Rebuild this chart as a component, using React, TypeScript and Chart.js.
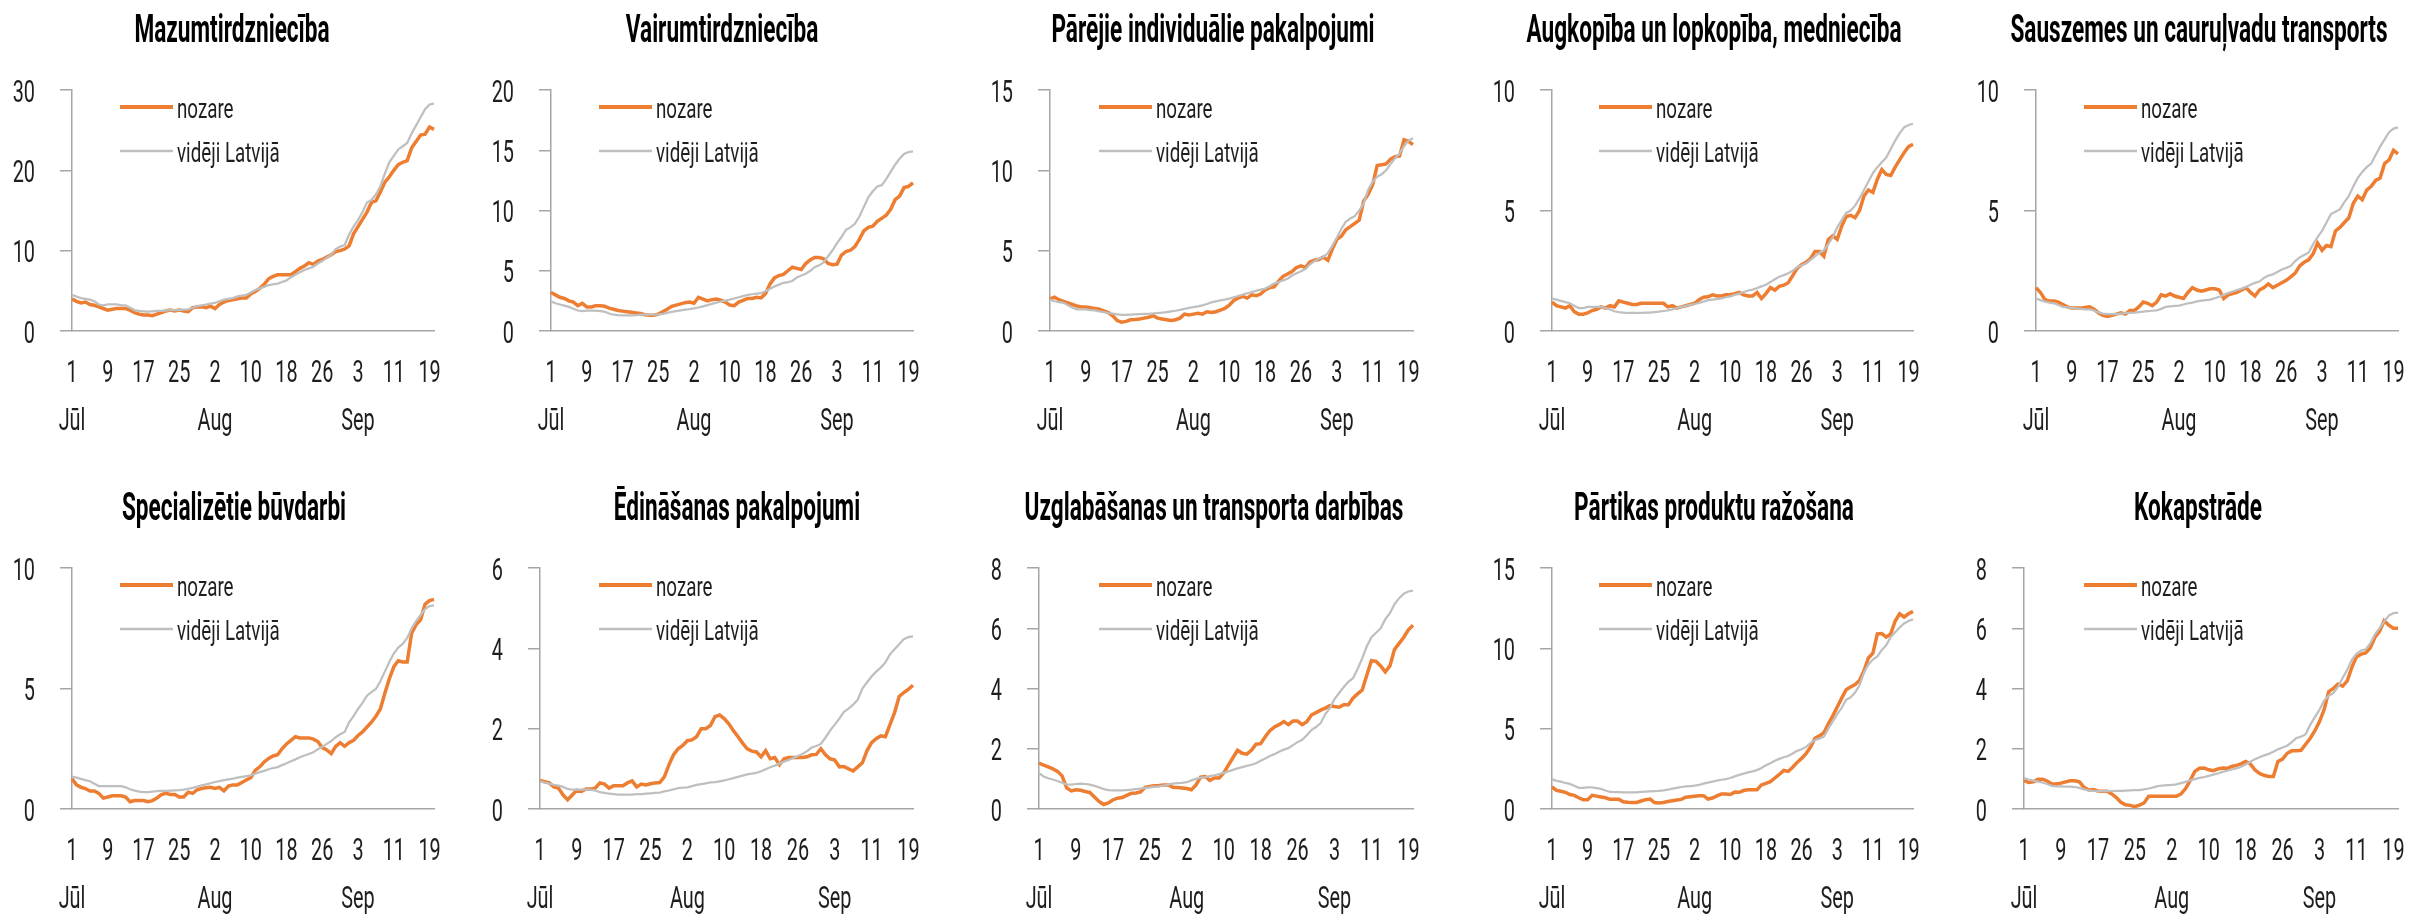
import React, { useEffect, useRef } from "react";
import { Chart, registerables } from "chart.js";

Chart.register(...registerables);

// ---------- DATA ----------
const days = [
  1, 2, 3, 4, 5, 6, 7, 8, 9, 10, 11, 12, 13, 14, 15, 16, 17, 18, 19, 20, 21, 22, 23, 24, 25, 26, 27, 28, 29, 30, 31,
  1, 2, 3, 4, 5, 6, 7, 8, 9, 10, 11, 12, 13, 14, 15, 16, 17, 18, 19, 20, 21, 22, 23, 24, 25, 26, 27, 28, 29, 30, 31,
  1, 2, 3, 4, 5, 6, 7, 8, 9, 10, 11, 12, 13, 14, 15, 16, 17, 18, 19, 20,
];
const dayTickIndex = [0, 8, 16, 24, 32, 40, 48, 56, 64, 72, 80];
const monthLabels = ["Jūl", "Aug", "Sep"];
const monthTickIndex = [0, 32, 64];
const seriesNames = ["nozare", "vidēji Latvijā"];

const titles = [
  "Mazumtirdzniecība",
  "Vairumtirdzniecība",
  "Pārējie individuālie pakalpojumi",
  "Augkopība un lopkopība, medniecība",
  "Sauszemes un cauruļvadu transports",
  "Specializētie būvdarbi",
  "Ēdināšanas pakalpojumi",
  "Uzglabāšanas un transporta darbības",
  "Pārtikas produktu ražošana",
  "Kokapstrāde",
];
const yMax = [30, 20, 15, 10, 10, 10, 6, 8, 15, 8];
const yStep = [10, 5, 5, 5, 5, 5, 2, 2, 5, 2];

const retailSector = [
  4.0, 3.7, 3.5, 3.6, 3.3, 3.2, 3.0, 2.8, 2.6, 2.7, 2.8, 2.8, 2.8, 2.6, 2.3, 2.1, 2.0, 2.0, 1.9, 2.1,
  2.3, 2.5, 2.6, 2.5, 2.6, 2.5, 2.4, 2.9, 3.0, 3.0, 2.9, 3.1, 2.8, 3.3, 3.6, 3.8, 3.9, 4.0, 4.1, 4.1,
  4.6, 4.9, 5.3, 5.8, 6.5, 6.8, 7.0, 7.0, 7.0, 7.0, 7.4, 7.8, 8.1, 8.5, 8.3, 8.7, 8.9, 9.2, 9.5, 9.9,
  10.0, 10.2, 10.6, 12.1, 13.0, 13.9, 14.8, 16.0, 16.2, 17.3, 18.5, 19.2, 20.0, 20.7, 21.0, 21.2, 22.8, 23.6, 24.4, 24.5,
  25.4, 25.1,
];
const retailAvg = [
  4.5, 4.3, 4.1, 4.0, 3.9, 3.7, 3.3, 3.2, 3.3, 3.3, 3.3, 3.2, 3.2, 2.9, 2.6, 2.5, 2.45, 2.4, 2.45, 2.5,
  2.5, 2.55, 2.6, 2.6, 2.6, 2.65, 2.7, 2.9, 3.1, 3.2, 3.3, 3.4, 3.5, 3.7, 3.9, 4.0, 4.1, 4.3, 4.4, 4.5,
  4.8, 5.1, 5.3, 5.5, 5.7, 5.8, 5.9, 6.1, 6.3, 6.7, 7.0, 7.3, 7.6, 7.8, 8.0, 8.4, 8.7, 9.1, 9.5, 10.2,
  10.5, 10.7, 12.0, 13.0, 13.8, 14.8, 16.0, 16.3, 17.0, 18.0, 19.6, 21.0, 21.8, 22.6, 23.0, 23.4, 24.6, 25.6, 26.6, 27.6,
  28.2, 28.3,
];
const wholesaleSector = [
  3.2, 3.0, 2.8, 2.7, 2.5, 2.4, 2.1, 2.3, 2.0, 2.0, 2.1, 2.1, 2.05, 1.9, 1.8, 1.7, 1.65, 1.6, 1.55, 1.5,
  1.45, 1.35, 1.3, 1.3, 1.4, 1.6, 1.8, 2.05, 2.15, 2.25, 2.35, 2.4, 2.3, 2.8, 2.65, 2.5, 2.6, 2.65, 2.55, 2.4,
  2.15, 2.1, 2.4, 2.55, 2.7, 2.7, 2.8, 2.75, 3.1, 3.9, 4.4, 4.6, 4.7, 5.0, 5.3, 5.2, 5.1, 5.6, 5.9, 6.1,
  6.1, 6.0, 5.6, 5.5, 5.55, 6.3, 6.6, 6.7, 7.0, 7.6, 8.3, 8.6, 8.7, 9.1, 9.35, 9.6, 10.1, 10.9, 11.2, 11.9,
  12.0, 12.3,
];
const wholesaleAvg = [
  2.45, 2.3, 2.2, 2.1, 2.0, 1.85, 1.7, 1.65, 1.7, 1.7, 1.7, 1.65, 1.6, 1.45, 1.35, 1.32, 1.3, 1.3, 1.3, 1.32,
  1.35, 1.35, 1.35, 1.35, 1.38, 1.42, 1.5, 1.58, 1.65, 1.72, 1.78, 1.82, 1.88, 1.95, 2.05, 2.15, 2.25, 2.35, 2.45, 2.52,
  2.6, 2.7, 2.8, 2.9, 3.0, 3.05, 3.1, 3.15, 3.3, 3.5, 3.7, 3.85, 4.0, 4.05, 4.15, 4.45, 4.6, 4.75, 5.0, 5.3,
  5.45, 5.7, 6.2, 6.7, 7.3, 7.8, 8.4, 8.6, 8.9, 9.5, 10.3, 11.1, 11.6, 12.0, 12.1, 12.6, 13.2, 13.8, 14.3, 14.7,
  14.85, 14.9,
];
const personalSector = [
  2.0, 2.1, 1.95, 1.85, 1.75, 1.65, 1.55, 1.5, 1.5, 1.45, 1.4, 1.35, 1.25, 1.15, 0.95, 0.65, 0.55, 0.6, 0.7, 0.72,
  0.75, 0.8, 0.85, 0.95, 0.8, 0.75, 0.7, 0.65, 0.7, 0.8, 1.05, 1.0, 1.05, 1.1, 1.05, 1.2, 1.15, 1.2, 1.3, 1.4,
  1.6, 1.9, 2.05, 2.15, 2.05, 2.25, 2.2, 2.3, 2.55, 2.7, 2.75, 3.1, 3.4, 3.55, 3.7, 3.95, 4.05, 3.95, 4.3, 4.4,
  4.45, 4.6, 4.4, 5.1, 5.7, 5.9, 6.3, 6.5, 6.7, 6.9, 8.1, 8.5, 9.1, 10.3, 10.35, 10.4, 10.7, 10.85, 10.9, 11.9,
  11.8, 11.6,
];
const personalAvg = [
  1.95, 1.85, 1.8, 1.75, 1.6, 1.45, 1.35, 1.35, 1.35, 1.3, 1.28, 1.22, 1.18, 1.12, 1.08, 1.04, 1.0, 1.0, 1.02, 1.04,
  1.05, 1.06, 1.07, 1.09, 1.12, 1.14, 1.17, 1.22, 1.26, 1.32, 1.38, 1.44, 1.48, 1.53, 1.6, 1.68, 1.78, 1.84, 1.9, 1.95,
  2.02, 2.1, 2.18, 2.26, 2.35, 2.42, 2.5, 2.57, 2.64, 2.78, 2.95, 3.05, 3.15, 3.25, 3.45, 3.6, 3.72, 3.85, 4.15, 4.35,
  4.5, 4.6, 4.85, 5.3, 5.8, 6.35, 6.8, 7.0, 7.15, 7.5, 7.95, 8.8, 9.3, 9.6, 9.75, 10.0, 10.4, 10.75, 11.05, 11.5,
  11.85, 12.0,
];
const farmingSector = [
  1.2, 1.05, 1.0, 0.95, 1.05, 0.8, 0.7, 0.7, 0.75, 0.85, 0.9, 1.0, 0.95, 1.05, 1.0, 1.25, 1.2, 1.15, 1.1, 1.1,
  1.15, 1.15, 1.15, 1.15, 1.15, 1.15, 1.0, 1.05, 0.95, 1.0, 1.05, 1.1, 1.15, 1.3, 1.4, 1.42, 1.5, 1.45, 1.45, 1.5,
  1.52, 1.55, 1.6, 1.5, 1.45, 1.45, 1.6, 1.35, 1.55, 1.8, 1.7, 1.85, 1.9, 2.0, 2.3, 2.6, 2.75, 2.85, 3.0, 3.3,
  3.3, 3.1, 3.8, 3.95, 3.8, 4.35, 4.75, 4.8, 4.7, 5.0, 5.6, 5.85, 5.75, 6.3, 6.7, 6.5, 6.45, 6.8, 7.1, 7.4,
  7.65, 7.75,
];
const farmingAvg = [
  1.35, 1.3, 1.25, 1.2, 1.15, 1.05, 0.95, 0.95, 1.0, 1.0, 1.0, 1.0, 0.95, 0.9, 0.82, 0.78, 0.76, 0.75, 0.75, 0.75,
  0.75, 0.76, 0.76, 0.78, 0.8, 0.83, 0.86, 0.9, 0.95, 1.0, 1.04, 1.08, 1.12, 1.17, 1.22, 1.28, 1.3, 1.32, 1.35, 1.4,
  1.44, 1.5, 1.55, 1.62, 1.68, 1.72, 1.78, 1.85, 1.92, 2.03, 2.15, 2.25, 2.32, 2.4, 2.5, 2.65, 2.73, 2.8, 2.95, 3.1,
  3.25, 3.35, 3.6, 3.9, 4.3, 4.6, 4.9, 5.0, 5.2, 5.5, 5.85, 6.2, 6.55, 6.8, 7.0, 7.2, 7.55, 7.9, 8.2, 8.45,
  8.55, 8.6,
];
const landTransportSector = [
  1.8, 1.6, 1.3, 1.25, 1.25, 1.2, 1.1, 1.0, 0.95, 0.95, 0.95, 0.98, 1.0, 0.9, 0.75, 0.65, 0.6, 0.65, 0.7, 0.75,
  0.7, 0.85, 0.85, 1.0, 1.2, 1.15, 1.05, 1.2, 1.5, 1.45, 1.55, 1.45, 1.4, 1.35, 1.6, 1.8, 1.7, 1.65, 1.7, 1.75,
  1.75, 1.7, 1.35, 1.5, 1.55, 1.6, 1.7, 1.8, 1.6, 1.45, 1.7, 1.8, 1.95, 1.8, 1.9, 2.0, 2.1, 2.25, 2.4, 2.7,
  2.85, 2.95, 3.2, 3.65, 3.35, 3.55, 3.5, 4.15, 4.3, 4.5, 4.7, 5.3, 5.6, 5.45, 5.85, 6.0, 6.25, 6.35, 6.95, 7.1,
  7.5, 7.35,
];
const landTransportAvg = [
  1.35, 1.28, 1.22, 1.18, 1.15, 1.08, 1.0, 0.98, 0.96, 0.94, 0.92, 0.9, 0.9, 0.85, 0.77, 0.72, 0.7, 0.7, 0.7, 0.72,
  0.74, 0.75, 0.76, 0.78, 0.8, 0.82, 0.84, 0.86, 0.92, 1.0, 1.02, 1.04, 1.05, 1.1, 1.15, 1.18, 1.23, 1.26, 1.28, 1.3,
  1.36, 1.42, 1.5, 1.58, 1.64, 1.7, 1.76, 1.83, 1.92, 2.0, 2.05, 2.2, 2.3, 2.35, 2.45, 2.55, 2.62, 2.7, 2.9, 3.05,
  3.15, 3.25, 3.6, 3.9, 4.15, 4.5, 4.85, 4.95, 5.05, 5.35, 5.6, 6.0, 6.35, 6.6, 6.8, 6.95, 7.3, 7.65, 7.95, 8.25,
  8.4, 8.45,
];
const constructionSector = [
  1.25, 1.0, 0.9, 0.85, 0.75, 0.75, 0.65, 0.45, 0.5, 0.55, 0.55, 0.55, 0.5, 0.3, 0.35, 0.35, 0.35, 0.3, 0.35, 0.45,
  0.6, 0.65, 0.6, 0.6, 0.5, 0.5, 0.7, 0.65, 0.8, 0.85, 0.88, 0.9, 0.85, 0.9, 0.75, 0.95, 1.0, 1.0, 1.1, 1.2,
  1.3, 1.6, 1.75, 1.95, 2.1, 2.2, 2.25, 2.5, 2.7, 2.85, 3.0, 2.95, 2.95, 2.95, 2.9, 2.8, 2.55, 2.45, 2.3, 2.6,
  2.75, 2.6, 2.75, 2.85, 3.05, 3.2, 3.4, 3.6, 3.85, 4.15, 4.8, 5.4, 5.9, 6.15, 6.1, 6.1, 7.3, 7.65, 7.85, 8.5,
  8.65, 8.7,
];
const constructionAvg = [
  1.35, 1.3, 1.25, 1.2, 1.15, 1.05, 0.95, 0.95, 0.95, 0.95, 0.95, 0.95, 0.9, 0.82, 0.76, 0.72, 0.7, 0.7, 0.72, 0.74,
  0.75, 0.75, 0.76, 0.77, 0.78, 0.8, 0.84, 0.88, 0.93, 0.98, 1.02, 1.07, 1.12, 1.16, 1.2, 1.23, 1.26, 1.3, 1.33, 1.36,
  1.4, 1.47, 1.53, 1.58, 1.65, 1.7, 1.74, 1.82, 1.9, 1.98, 2.06, 2.15, 2.22, 2.28, 2.35, 2.48, 2.58, 2.7, 2.82, 2.98,
  3.1, 3.2, 3.6, 3.85, 4.15, 4.4, 4.7, 4.85, 4.98, 5.3, 5.7, 6.1, 6.45, 6.7, 6.85, 7.1, 7.5, 7.8, 8.05, 8.3,
  8.42, 8.45,
];
const cateringSector = [
  0.71, 0.68, 0.65, 0.55, 0.52, 0.35, 0.23, 0.35, 0.47, 0.44, 0.5, 0.5, 0.52, 0.65, 0.62, 0.52, 0.58, 0.58, 0.58, 0.65,
  0.7, 0.55, 0.62, 0.6, 0.63, 0.65, 0.66, 0.8, 1.1, 1.35, 1.5, 1.58, 1.7, 1.72, 1.8, 2.0, 2.0, 2.08, 2.3, 2.34,
  2.25, 2.12, 1.95, 1.8, 1.64, 1.5, 1.44, 1.42, 1.3, 1.45, 1.25, 1.28, 1.1, 1.25, 1.28, 1.28, 1.28, 1.28, 1.3, 1.35,
  1.36, 1.5, 1.35, 1.25, 1.22, 1.05, 1.06, 1.0, 0.95, 1.05, 1.15, 1.45, 1.65, 1.75, 1.82, 1.8, 2.1, 2.4, 2.8, 2.9,
  2.98, 3.08,
];
const cateringAvg = [
  0.69, 0.66, 0.63, 0.6, 0.58, 0.55, 0.5, 0.48, 0.48, 0.48, 0.48, 0.48, 0.46, 0.42, 0.4, 0.38, 0.37, 0.36, 0.36, 0.36,
  0.36, 0.37, 0.37, 0.38, 0.39, 0.4, 0.41, 0.44, 0.46, 0.49, 0.52, 0.53, 0.54, 0.57, 0.6, 0.62, 0.64, 0.66, 0.67, 0.69,
  0.71, 0.74, 0.77, 0.8, 0.83, 0.86, 0.88, 0.9, 0.94, 0.99, 1.04, 1.08, 1.13, 1.18, 1.22, 1.27, 1.32, 1.37, 1.44, 1.53,
  1.57, 1.62, 1.78, 1.95, 2.1, 2.25, 2.42, 2.5, 2.6, 2.72, 3.0, 3.15, 3.3, 3.42, 3.52, 3.65, 3.85, 3.98, 4.1, 4.23,
  4.28, 4.3,
];
const storageSector = [
  1.52, 1.46, 1.4, 1.33, 1.25, 1.1, 0.7, 0.6, 0.64, 0.62, 0.58, 0.55, 0.4, 0.25, 0.15, 0.2, 0.3, 0.36, 0.38, 0.45,
  0.52, 0.53, 0.57, 0.72, 0.75, 0.77, 0.78, 0.8, 0.8, 0.72, 0.71, 0.7, 0.68, 0.64, 0.8, 1.06, 1.08, 0.95, 1.03, 1.03,
  1.2, 1.45, 1.7, 1.95, 1.85, 1.82, 1.95, 2.15, 2.17, 2.4, 2.6, 2.72, 2.8, 2.9, 2.8, 2.92, 2.92, 2.8, 2.9, 3.12,
  3.2, 3.28, 3.35, 3.43, 3.4, 3.38, 3.46, 3.46, 3.68, 3.82, 3.95, 4.45, 4.92, 4.9, 4.75, 4.55, 4.75, 5.3, 5.5, 5.7,
  5.95, 6.1,
];
const storageAvg = [
  1.19, 1.08, 1.02, 0.98, 0.93, 0.87, 0.82, 0.81, 0.83, 0.84, 0.83, 0.81, 0.77, 0.72, 0.66, 0.63, 0.62, 0.62, 0.62, 0.63,
  0.64, 0.66, 0.68, 0.7, 0.72, 0.74, 0.75, 0.78, 0.81, 0.84, 0.86, 0.87, 0.89, 0.95, 1.0, 1.04, 1.06, 1.09, 1.12, 1.16,
  1.2, 1.25, 1.3, 1.35, 1.39, 1.43, 1.47, 1.52, 1.6, 1.68, 1.76, 1.82, 1.9, 1.97, 2.02, 2.12, 2.22, 2.3, 2.45, 2.62,
  2.72, 2.85, 3.15, 3.35, 3.65, 3.85, 4.05, 4.22, 4.34, 4.65, 5.0, 5.4, 5.7, 5.85, 6.0, 6.3, 6.5, 6.8, 7.0, 7.15,
  7.22, 7.25,
];
const foodSector = [
  1.37, 1.16, 1.1, 1.04, 0.9, 0.85, 0.7, 0.58, 0.58, 0.85, 0.8, 0.75, 0.7, 0.6, 0.6, 0.6, 0.45, 0.42, 0.41, 0.41,
  0.5, 0.58, 0.62, 0.4, 0.38, 0.41, 0.47, 0.52, 0.56, 0.6, 0.73, 0.76, 0.79, 0.82, 0.83, 0.62, 0.68, 0.82, 0.93, 0.93,
  0.9, 1.05, 1.04, 1.15, 1.2, 1.2, 1.2, 1.5, 1.6, 1.7, 1.93, 2.15, 2.4, 2.34, 2.6, 2.9, 3.15, 3.45, 3.85, 4.4,
  4.55, 4.75, 5.3, 5.8, 6.35, 6.9, 7.42, 7.6, 7.75, 8.0, 8.6, 9.4, 9.7, 10.9, 10.92, 10.7, 10.9, 11.7, 12.15, 11.95,
  12.15, 12.3,
];
const foodAvg = [
  1.86, 1.75, 1.7, 1.62, 1.56, 1.45, 1.32, 1.32, 1.35, 1.34, 1.3, 1.25, 1.15, 1.06, 1.05, 1.05, 1.04, 1.04, 1.04, 1.04,
  1.06, 1.08, 1.1, 1.12, 1.13, 1.16, 1.2, 1.27, 1.32, 1.37, 1.41, 1.43, 1.45, 1.5, 1.58, 1.64, 1.7, 1.77, 1.82, 1.86,
  1.93, 2.03, 2.12, 2.2, 2.28, 2.34, 2.42, 2.55, 2.72, 2.85, 3.0, 3.12, 3.22, 3.3, 3.45, 3.62, 3.72, 3.85, 4.1, 4.3,
  4.38, 4.5, 5.0, 5.45, 5.9, 6.3, 6.8, 6.95, 7.25, 7.7, 8.5, 9.0, 9.3, 9.5, 9.9, 10.2, 10.7, 11.0, 11.3, 11.55,
  11.7, 11.8,
];
const woodSector = [
  0.95, 0.88, 0.9, 0.99, 0.99, 0.93, 0.83, 0.83, 0.86, 0.9, 0.94, 0.94, 0.9, 0.72, 0.63, 0.65, 0.6, 0.59, 0.59, 0.5,
  0.38, 0.22, 0.14, 0.12, 0.08, 0.13, 0.2, 0.42, 0.42, 0.42, 0.42, 0.42, 0.42, 0.42, 0.5, 0.68, 0.95, 1.25, 1.35, 1.36,
  1.3, 1.27, 1.33, 1.36, 1.35, 1.41, 1.45, 1.5, 1.58, 1.5, 1.3, 1.18, 1.12, 1.08, 1.08, 1.58, 1.66, 1.85, 1.93, 1.93,
  1.95, 2.15, 2.35, 2.6, 2.9, 3.3, 3.9, 4.0, 4.15, 4.08, 4.25, 4.7, 5.05, 5.14, 5.18, 5.35, 5.7, 5.9, 6.25, 6.1,
  6.0, 6.0,
];
const woodAvg = [
  1.03, 0.98, 0.94, 0.91, 0.88, 0.83, 0.77, 0.75, 0.75, 0.74, 0.74, 0.73, 0.7, 0.65, 0.62, 0.6, 0.59, 0.59, 0.59, 0.59,
  0.6, 0.6, 0.61, 0.62, 0.63, 0.63, 0.65, 0.68, 0.72, 0.76, 0.78, 0.79, 0.8, 0.82, 0.86, 0.9, 0.95, 0.99, 1.03, 1.06,
  1.1, 1.14, 1.18, 1.23, 1.27, 1.31, 1.35, 1.4, 1.48, 1.57, 1.65, 1.72, 1.78, 1.83, 1.9, 1.98, 2.04, 2.1, 2.22, 2.36,
  2.4, 2.48, 2.8, 3.05, 3.3, 3.6, 3.76, 3.85, 4.05, 4.35, 4.62, 4.95, 5.15, 5.26, 5.3, 5.5, 5.8, 6.0, 6.22, 6.42,
  6.5, 6.52,
];

const sectorSeries = [
  retailSector, wholesaleSector, personalSector, farmingSector, landTransportSector,
  constructionSector, cateringSector, storageSector, foodSector, woodSector,
];
const averageSeries = [
  retailAvg, wholesaleAvg, personalAvg, farmingAvg, landTransportAvg,
  constructionAvg, cateringAvg, storageAvg, foodAvg, woodAvg,
];

// ---------- LAYOUT / STYLE ----------
const PLOT_RIGHT = [434, 913, 1413, 1913, 2398];
const Y_AXIS_X = [72, 551, 1050, 1552, 2036, 72, 540, 1039, 1552, 2024];
const TITLE_OFFSET = [202, 191, 200, 199, 199, 200, 176, 199, 199, 200];
const ROW_TOP = [0, 478];
const CANVAS_H = 440;
const CANVAS_W = 445;
const PLOT_TOP = 90;
const PLOT_BOTTOM = 331;
const ORANGE = "#ED7D31";
const GREY = "#BFBFBF";
const AXIS = "#A6A6A6";
const FONT = "Roboto, 'Open Sans', 'DejaVu Sans', sans-serif";
const SX_TICK = 0.62;
const SX_TITLE = 0.595;
const SX_LEGEND = 0.67;

function drawText(
  ctx: CanvasRenderingContext2D,
  text: string,
  x: number,
  y: number,
  align: CanvasTextAlign,
  font: string,
  color: string,
  sx: number
) {
  ctx.save();
  ctx.font = font;
  ctx.fillStyle = color;
  ctx.textAlign = align;
  ctx.textBaseline = "alphabetic";
  ctx.translate(x, y);
  ctx.scale(sx, 1);
  ctx.fillText(text, 0, 0);
  ctx.restore();
}

function Panel({ index }: { index: number }) {
  const ref = useRef<HTMLCanvasElement | null>(null);
  const col = index % 5;
  const row = Math.floor(index / 5);
  const plotRight = PLOT_RIGHT[col];
  const canvasLeft = plotRight - 434;
  const axisLeft = Y_AXIS_X[index] - canvasLeft;

  useEffect(() => {
    if (!ref.current) return;
    const textPlugin = {
      id: "panelText",
      afterDraw(chart: any) {
        const ctx = chart.ctx as CanvasRenderingContext2D;
        const area = chart.chartArea;
        const xs = chart.scales.x;
        const ys = chart.scales.y;
        drawText(ctx, titles[index], area.right - TITLE_OFFSET[index], 42, "center", `bold 38px ${FONT}`, "#000", SX_TITLE);
        ys.ticks.forEach((t: any) => {
          const py = ys.getPixelForValue(t.value);
          drawText(ctx, String(t.value), area.left - 37, py + 11.5, "right", `32px ${FONT}`, "#1e1e1e", SX_TICK);
        });
        dayTickIndex.forEach((i) => {
          const px = xs.getPixelForValue(i);
          drawText(ctx, String(days[i]), px, area.bottom + 51, "center", `32px ${FONT}`, "#1e1e1e", SX_TICK);
        });
        monthTickIndex.forEach((i, k) => {
          const px = xs.getPixelForValue(i);
          drawText(ctx, monthLabels[k], px, area.bottom + 99, "center", `32px ${FONT}`, "#1e1e1e", SX_TICK);
        });
        const lx = area.right - 314;
        const ly = [area.top + 17, area.top + 61];
        const ds = chart.data.datasets;
        [0, 1].forEach((k) => {
          const d = ds[k];
          ctx.save();
          ctx.strokeStyle = d.borderColor;
          ctx.lineWidth = k === 0 ? 4 : 2.5;
          ctx.beginPath();
          ctx.moveTo(lx, ly[k]);
          ctx.lineTo(lx + 53, ly[k]);
          ctx.stroke();
          ctx.restore();
          drawText(ctx, seriesNames[k], lx + 57, ly[k] + 10.5, "left", `28px ${FONT}`, "#1e1e1e", SX_LEGEND);
        });
      },
    };

    const chart = new Chart(ref.current, {
      type: "line",
      data: {
        labels: days.map((d, i) => `${i}-${d}`),
        datasets: [
          {
            label: seriesNames[0],
            data: sectorSeries[index],
            borderColor: ORANGE,
            borderWidth: 3.5,
            pointRadius: 0,
            tension: 0,
            order: 1,
          },
          {
            label: seriesNames[1],
            data: averageSeries[index],
            borderColor: GREY,
            borderWidth: 2.25,
            pointRadius: 0,
            tension: 0,
            order: 0,
          },
        ],
      },
      options: {
        responsive: false,
        animation: false,
        events: [],
        layout: { padding: { left: 0, right: CANVAS_W - 434, top: PLOT_TOP, bottom: 0 } },
        plugins: {
          legend: { display: false },
          title: { display: false },
          tooltip: { enabled: false },
        },
        scales: {
          x: {
            type: "category",
            offset: false,
            grid: { display: false, drawTicks: false },
            border: { display: true, color: AXIS, width: 1.5 },
            ticks: { display: false, autoSkip: false },
            afterFit: (s: any) => {
              s.height = CANVAS_H - PLOT_BOTTOM;
            },
          },
          y: {
            min: 0,
            max: yMax[index],
            ticks: { display: false, stepSize: yStep[index] },
            grid: { display: true, drawOnChartArea: false, drawTicks: true, tickLength: 12, color: AXIS, lineWidth: 1.5 },
            border: { display: true, color: AXIS, width: 1.5 },
            afterFit: (s: any) => {
              s.width = axisLeft;
            },
          },
        },
      },
      plugins: [textPlugin],
    } as any);
    return () => chart.destroy();
  }, [index]);

  return (
    <canvas
      ref={ref}
      width={CANVAS_W}
      height={CANVAS_H}
      style={{ position: "absolute", left: canvasLeft, top: ROW_TOP[row], width: CANVAS_W, height: CANVAS_H }}
    />
  );
}

export default function App() {
  return (
    <div style={{ position: "absolute", left: 0, top: 0, width: 2409, height: 918, overflow: "hidden", background: "#fff" }}>
      {titles.map((_, i) => (
        <Panel key={i} index={i} />
      ))}
    </div>
  );
}
